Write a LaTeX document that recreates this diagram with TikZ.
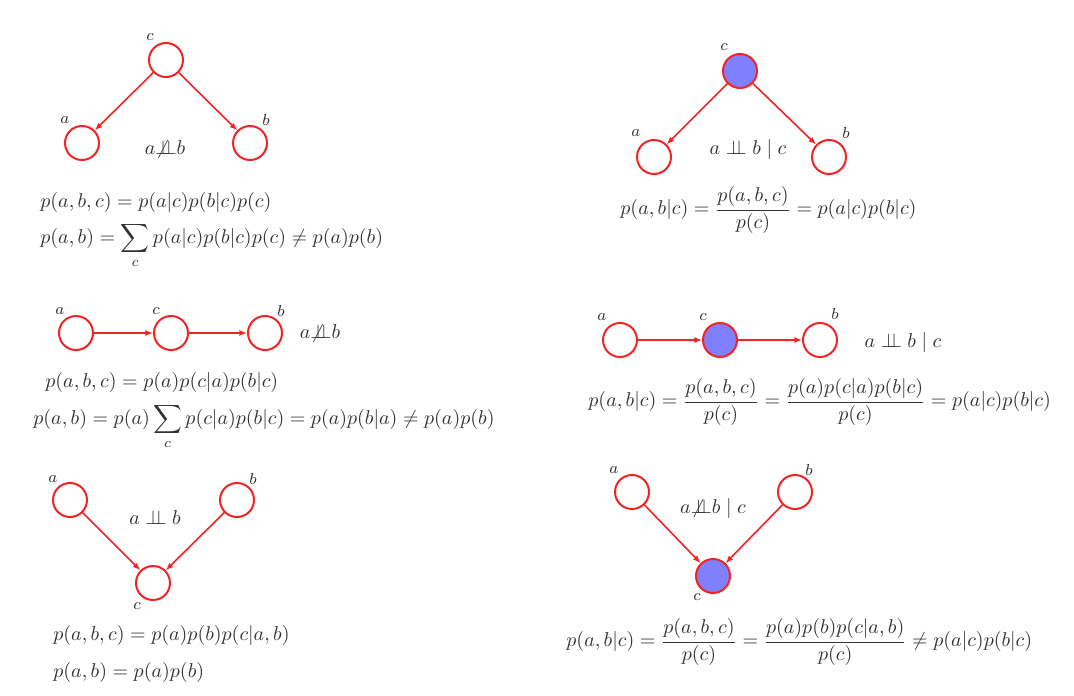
\documentclass[tikz,border=0pt]{standalone}
\usepackage{amsmath}
\usetikzlibrary{arrows.meta}
\definecolor{nodered}{RGB}{245,35,35}
\definecolor{obsblue}{RGB}{128,128,255}
\definecolor{txt}{RGB}{50,50,50}
\newcommand{\indep}{\mathrel{\perp\!\!\!\perp}}
\newcommand{\nindep}{{\not\perp\!\!\!\perp}}
\tikzset{
  var/.style={circle, draw=nodered, line width=1pt, minimum size=17pt, inner sep=0pt, fill=white},
  obs/.style={var, fill=obsblue},
  lab/.style={text=txt, font=\fontsize{7.8}{8}\selectfont, inner sep=0pt},
  edge/.style={draw=nodered, line width=0.8pt, -{Latex[length=3.8pt,width=3pt]}},
  eq/.style={text=txt, font=\fontsize{9.7}{11}\selectfont, inner sep=0pt},
}
\begin{document}
\begin{tikzpicture}[x=0.5pt,y=-0.5pt]
\useasboundingbox[fill=white] (0,0) rectangle (1074,695);
% ---------- panel 1: common cause, unobserved
\node[var] (c1) at (166,60) {};
\node[var] (a1) at (82,143) {};
\node[var] (b1) at (250,143) {};
\node[lab] (lc1) at (150,37) {$c$};
\node[lab] (la1) at (65,120) {$a$};
\node[lab] (lb1) at (266,120) {$b$};
\draw[edge] (c1) -- (a1);
\draw[edge] (c1) -- (b1);
\node[eq] (t1) at (165,150) {$a \nindep b$};
\node[eq, anchor=base west] (e1a) at (40,207) {$p(a,b,c) = p(a|c)p(b|c)p(c)$};
\node[eq, anchor=base west] (e1b) at (40,243) {$\displaystyle p(a,b) = \sum_c p(a|c)p(b|c)p(c) \neq p(a)p(b)$};
% ---------- panel 2: common cause, observed
\node[obs] (c2) at (740,71) {};
\node[var] (a2) at (654,157) {};
\node[var] (b2) at (829,157) {};
\node[lab] (lc2) at (724,47) {$c$};
\node[lab] (la2) at (636,133) {$a$};
\node[lab] (lb2) at (846,133) {$b$};
\draw[edge] (c2) -- (a2);
\draw[edge] (c2) -- (b2);
\node[eq] (t2) at (748,150) {$a \indep b \mid c$};
\node[eq, anchor=west] (e2) at (620,210) {$\displaystyle p(a,b|c) = \frac{p(a,b,c)}{p(c)} = p(a|c)p(b|c)$};
% ---------- panel 3: chain, unobserved
\node[var] (a3) at (76,333) {};
\node[var] (c3) at (171,333) {};
\node[var] (b3) at (265,333) {};
\node[lab] (la3) at (60,311) {$a$};
\node[lab] (lc3) at (156,311) {$c$};
\node[lab] (lb3) at (281,311) {$b$};
\draw[edge] (a3) -- (c3);
\draw[edge] (c3) -- (b3);
\node[eq] (t3) at (320,333) {$a \nindep b$};
\node[eq, anchor=base west] (e3a) at (45,387) {$p(a,b,c) = p(a)p(c|a)p(b|c)$};
\node[eq, anchor=base west] (e3b) at (33,424) {$\displaystyle p(a,b) = p(a)\sum_c p(c|a)p(b|c) = p(a)p(b|a) \neq p(a)p(b)$};
% ---------- panel 4: chain, observed
\node[var] (a4) at (620,340) {};
\node[obs] (c4) at (720,340) {};
\node[var] (b4) at (820,340) {};
\node[lab] (la4) at (602,317) {$a$};
\node[lab] (lc4) at (703,317) {$c$};
\node[lab] (lb4) at (835,314) {$b$};
\draw[edge] (a4) -- (c4);
\draw[edge] (c4) -- (b4);
\node[eq] (t4) at (903,342) {$a \indep b \mid c$};
\node[eq, anchor=west] (e4) at (588,402) {$\displaystyle p(a,b|c) = \frac{p(a,b,c)}{p(c)} = \frac{p(a)p(c|a)p(b|c)}{p(c)} = p(a|c)p(b|c)$};
% ---------- panel 5: collider, unobserved
\node[var] (a5) at (70,500) {};
\node[var] (b5) at (237,500) {};
\node[var] (c5) at (153,583) {};
\node[lab] (la5) at (53,479) {$a$};
\node[lab] (lb5) at (253,479) {$b$};
\node[lab] (lc5) at (137,606) {$c$};
\draw[edge] (a5) -- (c5);
\draw[edge] (b5) -- (c5);
\node[eq] (t5) at (155,518) {$a \indep b$};
\node[eq, anchor=base west] (e5a) at (53,640) {$p(a,b,c) = p(a)p(b)p(c|a,b)$};
\node[eq, anchor=base west] (e5b) at (53,677) {$p(a,b) = p(a)p(b)$};
% ---------- panel 6: collider, observed
\node[var] (a6) at (632,492) {};
\node[var] (b6) at (795,492) {};
\node[obs] (c6) at (713,576) {};
\node[lab] (la6) at (614,470) {$a$};
\node[lab] (lb6) at (809,470) {$b$};
\node[lab] (lc6) at (697,597) {$c$};
\draw[edge] (a6) -- (c6);
\draw[edge] (b6) -- (c6);
\node[eq] (t6) at (713,508) {$a \nindep b \mid c$};
\node[eq, anchor=west] (e6) at (566,642) {$\displaystyle p(a,b|c) = \frac{p(a,b,c)}{p(c)} = \frac{p(a)p(b)p(c|a,b)}{p(c)} \neq p(a|c)p(b|c)$};
\end{tikzpicture}
\end{document}
